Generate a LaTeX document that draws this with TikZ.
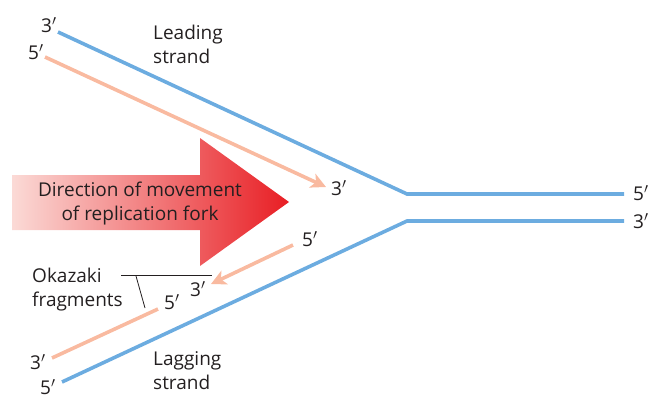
\documentclass[tikz,border=0pt]{standalone}
\usepackage{fontspec}
\setmainfont{Open Sans}
\usetikzlibrary{arrows.meta}

\definecolor{templateblue}{RGB}{108,172,224}
\definecolor{newpink}{RGB}{249,186,160}
\definecolor{forkred}{RGB}{232,30,36}
\definecolor{forkmid}{RGB}{241,112,92}
\definecolor{forkpale}{RGB}{251,218,214}
\definecolor{textgray}{RGB}{35,31,32}

\newcommand{\pr}{$'$}

\tikzset{
  template/.style={line width=3.6pt, templateblue},
  newstrand/.style={line width=3.6pt, newpink, -{Stealth[length=15pt,width=15pt,inset=4pt]}},
  endlabel/.style={font=\fontsize{19}{24}\selectfont, text=textgray, inner sep=0pt, anchor=base west},
  caption/.style={font=\fontsize{19}{24}\selectfont, text=textgray, inner sep=0pt, align=left, anchor=base west}
}

\begin{document}
\begin{tikzpicture}[x=1pt,y=-1pt]
\useasboundingbox (0,0) rectangle (650,394);

% Direction of fork movement
\shade[left color=forkpale, middle color=forkmid, right color=forkred]
  (12,175) -- (200,175) -- (200,138) -- (289,202) -- (200,266) -- (200,230) -- (12,230) -- cycle;
\node[text=textgray, font=\fontsize{19}{24}\selectfont, align=center, inner sep=0pt] (fork) at (140,204)
  {Direction of movement\\of replication fork};

% Parental strands
\coordinate (topend) at (58,32);
\coordinate (forktop) at (407,194);
\coordinate (topright) at (624,194);
\coordinate (botend) at (62,382);
\coordinate (forkbot) at (407,221);
\coordinate (botright) at (624,221);
\draw[template] (topend) -- (forktop) -- (topright);
\draw[template] (botend) -- (forkbot) -- (botright);

% Leading strand
\coordinate (lead5) at (45,57);
\coordinate (lead3) at (326,187);
\draw[newstrand] (lead5) -- (lead3);

% Okazaki fragments
\coordinate (frag5) at (293,245);
\coordinate (frag3) at (211,284);
\coordinate (old5) at (158,309);
\coordinate (old3) at (52,358);
\draw[newstrand] (frag5) -- (frag3);
\draw[line width=3.6pt, newpink] (old5) -- (old3);

% Ends
\node[endlabel] (t3) at (41,32) {3\pr};
\node[endlabel] (t5) at (28,59) {5\pr};
\node[endlabel] (l3) at (331,195) {3\pr};
\node[endlabel] (r5) at (633,200) {5\pr};
\node[endlabel] (r3) at (633,228) {3\pr};
\node[endlabel] (f5) at (302,246) {5\pr};
\node[endlabel] (f3) at (190,296) {3\pr};
\node[endlabel] (o5) at (164,309) {5\pr};
\node[endlabel] (b3) at (30,369) {3\pr};
\node[endlabel] (b5) at (40,394) {5\pr};

% Labels
\node[caption] (leading) at (153,63) {Leading\\strand};
\node[caption] (lagging) at (153,389) {Lagging\\strand};
\node[caption] (okazaki) at (32,306) {Okazaki\\fragments};
\coordinate (bar1) at (121,275);
\coordinate (bar2) at (212,275);
\coordinate (tick) at (145,308);
\draw[textgray, line width=0.8pt] (bar1) -- (bar2);
\draw[textgray, line width=0.8pt] (136,276) -- (tick);

\end{tikzpicture}
\end{document}
